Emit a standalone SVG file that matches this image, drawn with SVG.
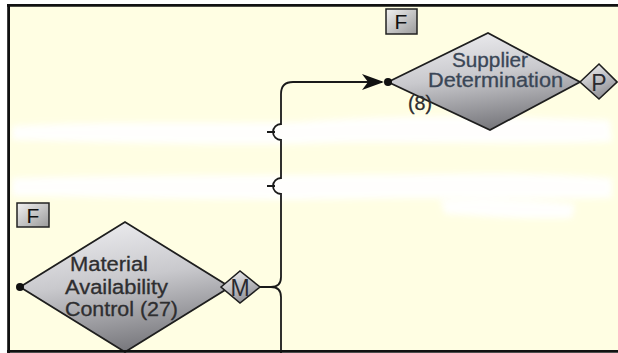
<svg xmlns="http://www.w3.org/2000/svg" width="618" height="353" viewBox="0 0 618 353">
<style>
.lbl{font-family:"Liberation Sans",Arial,sans-serif;font-size:19.5px;fill:#2e2e30;stroke:#2e2e30;stroke-width:0.3}
.sup{fill:#3a4656;stroke:#3a4656}
.big{stroke:#1e1e1e;stroke-width:1.8;fill:url(#dg)}
.small{stroke:#1e1e1e;stroke-width:1.6;fill:url(#sg)}
.tag{font-family:"Liberation Sans",Arial,sans-serif;font-size:21px;fill:#111;text-anchor:middle}
.port{font-size:23px;fill:#2a2a30}
.fbox{fill:url(#fg);stroke:#222;stroke-width:1.5}
.con{fill:none;stroke:#1a1a1a;stroke-width:1.8}
</style>
<defs>
<linearGradient id="dg" x1="0.3" y1="0" x2="0.55" y2="1">
<stop offset="0" stop-color="#ececef"/>
<stop offset="0.45" stop-color="#c9c9cd"/>
<stop offset="1" stop-color="#75757a"/>
</linearGradient>
<linearGradient id="sg" x1="0.2" y1="0" x2="0.7" y2="1">
<stop offset="0" stop-color="#efeff1"/>
<stop offset="1" stop-color="#8a8a90"/>
</linearGradient>
<linearGradient id="fg" x1="0" y1="0" x2="1" y2="1">
<stop offset="0" stop-color="#f2f2f2"/>
<stop offset="1" stop-color="#9a9a9a"/>
</linearGradient>
<filter id="blur" x="-10%" y="-50%" width="120%" height="200%">
<feGaussianBlur stdDeviation="3"/>
</filter>
<marker id="arr" viewBox="0 0 22 16" refX="20" refY="8" markerWidth="22" markerHeight="16" markerUnits="userSpaceOnUse" orient="auto">
<path d="M0,0 L22,8 L0,16 L6,8 Z" fill="#111"/>
</marker>
</defs>
<rect x="0" y="0" width="618" height="353" fill="#ffffff"/>
<rect x="8" y="5" width="610" height="346" fill="#fffee3"/>
<g id="erased" filter="url(#blur)" fill="#ffffff" opacity="0.95">
<path d="M12,126 C120,120 220,124 300,122 C400,114 500,116 610,120 L612,142 C500,146 400,140 300,144 C200,146 100,142 12,140 Z"/>
<path d="M12,178 C150,174 300,176 450,174 C520,172 580,176 612,178 L612,198 C520,200 450,196 300,200 C150,200 80,196 12,196 Z"/>
<path d="M440,200 C480,198 540,200 575,204 L572,218 C530,220 480,216 445,214 Z"/>
</g>
<g id="connectors">
<path class="con" d="M260,287 L271,287 Q281,287 281,277 L281,194 A8,8 0 0 1 281,178 L281,140 A8,8 0 0 1 281,124 L281,94 Q281,82 293,82 L382,82" marker-end="url(#arr)"/>
<path class="con" d="M271,287 Q281,287 281,297 L281,353"/>
<path class="con" d="M267,186 L275,186 M267,132 L275,132"/>
</g>
<g id="mac">
<polygon class="big" points="20,287 125,222 230,287 125,352"/>
<circle cx="20" cy="287" r="4" fill="#111"/>
<text class="lbl" x="70" y="271" textLength="78" lengthAdjust="spacingAndGlyphs">Material</text>
<text class="lbl" x="65" y="294" textLength="103" lengthAdjust="spacingAndGlyphs">Availability</text>
<text class="lbl" x="65" y="316" textLength="113" lengthAdjust="spacingAndGlyphs">Control (27)</text>
</g>
<g id="m-port">
<polygon class="small" points="221,287 240,271 260,287 240,303"/>
<text class="tag port" x="240" y="295.5">M</text>
</g>
<g id="f-mac">
<rect class="fbox" x="17" y="203" width="32" height="24"/>
<text class="tag" x="33" y="223">F</text>
</g>
<g id="supplier">
<polygon class="big" points="388,82 488,33 580,82 490,130"/>
<circle cx="388" cy="82" r="4" fill="#111"/>
<text class="lbl sup" x="452" y="67" textLength="76" lengthAdjust="spacingAndGlyphs">Supplier</text>
<text class="lbl sup" x="428" y="87" textLength="135" lengthAdjust="spacingAndGlyphs">Determination</text>
<text class="lbl" x="408" y="110" textLength="24" lengthAdjust="spacingAndGlyphs">(8)</text>
</g>
<g id="p-port">
<polygon class="small" points="580,82 599,64 617,82 599,99"/>
<text class="tag port" x="599" y="90.5">P</text>
</g>
<g id="f-sup">
<rect class="fbox" x="386" y="9" width="31" height="25"/>
<text class="tag" x="401" y="29">F</text>
</g>
<g id="frame" stroke="#111" stroke-width="2.8" fill="none">
<line x1="8.6" y1="4" x2="8.6" y2="353"/>
<line x1="7" y1="5.4" x2="618" y2="5.4"/>
<line x1="7" y1="351.4" x2="618" y2="351.4"/>
</g>
</svg>
